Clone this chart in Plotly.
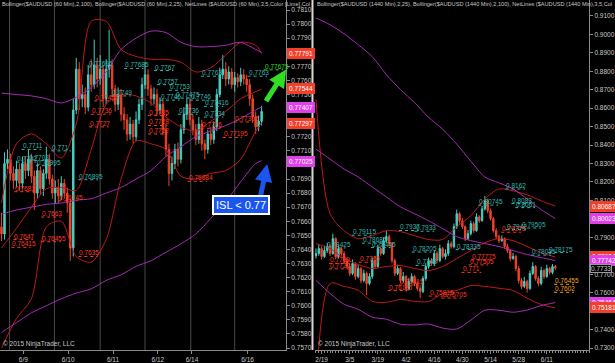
import plotly.graph_objects as go

# ---------------- LEFT PANEL: AUDUSD 60 min ----------------
L_open = [0.7656,0.7651,0.7701,0.7704,0.7694,0.7689,0.7697,0.7687,0.7701,0.7696,
          0.7704,0.7692,0.7680,0.7696,0.7683,0.7694,0.7704,0.7690,0.7680,0.7684,
          0.7678,0.7687,0.7680,0.7673,0.7641,0.7739,0.7768,0.7747,0.7750,0.7741,
          0.7764,0.7757,0.7771,0.7761,0.7768,0.7747,0.7768,0.7771,0.7754,0.7743,
          0.7750,0.7736,0.7732,0.7722,0.7729,0.7720,0.7732,0.7743,0.7757,0.7764,
          0.7754,0.7747,0.7750,0.7739,0.7743,0.7725,0.7711,0.7694,0.7701,0.7711,
          0.7704,0.7725,0.7736,0.7743,0.7732,0.7725,0.7718,0.7729,0.7715,0.7711,
          0.7722,0.7718,0.7727,0.7750,0.7764,0.7768,0.7761,0.7766,0.7757,0.7762,
          0.7759,0.7764,0.7761,0.7757,0.7747,0.7734,0.7727,0.7731]
L_high = [0.7666,0.7709,0.7711,0.7708,0.7699,0.7703,0.7701,0.7706,0.7706,0.7711,
          0.7708,0.7696,0.7701,0.7699,0.7697,0.7713,0.7708,0.7693,0.7689,0.7690,
          0.7692,0.7690,0.7684,0.7676,0.7747,0.7776,0.7773,0.7757,0.7755,0.7771,
          0.7775,0.7789,0.7776,0.7778,0.7771,0.7775,0.7796,0.7775,0.7757,0.7755,
          0.7754,0.7741,0.7736,0.7734,0.7732,0.7738,0.7747,0.7762,0.7773,0.7768,
          0.7757,0.7755,0.7754,0.7748,0.7747,0.7729,0.7715,0.7706,0.7715,0.7716,
          0.7729,0.7741,0.7748,0.7747,0.7736,0.7729,0.7734,0.7732,0.7718,0.7725,
          0.7727,0.7731,0.7754,0.7769,0.7778,0.7773,0.7770,0.7769,0.7766,0.7765,
          0.7769,0.7768,0.7764,0.7761,0.7750,0.7738,0.7735,0.7742]
L_low = [0.7646,0.7647,0.7697,0.7689,0.7683,0.7684,0.7682,0.7683,0.7690,0.7692,
         0.7687,0.7668,0.7676,0.7679,0.7678,0.7690,0.7686,0.7676,0.7673,0.7673,
         0.7675,0.7676,0.7666,0.7632,0.7635,0.7736,0.7739,0.7741,0.7736,0.7738,
         0.7752,0.7754,0.7755,0.7757,0.7741,0.7743,0.7762,0.7748,0.7738,0.7739,
         0.7731,0.7725,0.7717,0.7718,0.7715,0.7717,0.7729,0.7739,0.7754,0.7749,
         0.7742,0.7743,0.7735,0.7736,0.7721,0.7706,0.7685,0.7689,0.7697,0.7699,
         0.7701,0.7722,0.7732,0.7728,0.7721,0.7714,0.7715,0.7710,0.7704,0.7708,
         0.7714,0.7715,0.7724,0.7748,0.7761,0.7756,0.7757,0.7754,0.7752,0.7755,
         0.7756,0.7757,0.7752,0.7742,0.7730,0.7722,0.7724,0.7728]
L_close = [0.7651,0.7701,0.7704,0.7694,0.7689,0.7697,0.7687,0.7701,0.7696,0.7704,
           0.7692,0.7680,0.7696,0.7683,0.7694,0.7704,0.7690,0.7680,0.7684,0.7678,
           0.7687,0.7680,0.7673,0.7641,0.7739,0.7768,0.7747,0.7750,0.7741,0.7764,
           0.7757,0.7771,0.7761,0.7768,0.7747,0.7768,0.7771,0.7754,0.7743,0.7750,
           0.7736,0.7732,0.7722,0.7729,0.7720,0.7732,0.7743,0.7757,0.7764,0.7754,
           0.7747,0.7750,0.7739,0.7743,0.7725,0.7711,0.7694,0.7701,0.7711,0.7704,
           0.7725,0.7736,0.7743,0.7732,0.7725,0.7718,0.7729,0.7715,0.7711,0.7722,
           0.7718,0.7727,0.7750,0.7764,0.7768,0.7761,0.7766,0.7757,0.7762,0.7759,
           0.7764,0.7761,0.7757,0.7747,0.7734,0.7727,0.7731,0.7738]

L_band_x = [0,5,10,15,20,25,30,35,40,45,50,55,60,65,70,75,80,85,87]
L_red_up = [0.7673,0.7715,0.7722,0.7715,0.7705,0.7729,0.7802,0.7802,0.7782,0.7777,
            0.7775,0.7775,0.7773,0.7766,0.7769,0.7778,0.7787,0.7785,0.7779]
L_red_mid = [0.7641,0.7655,0.7670,0.7683,0.7684,0.7682,0.7711,0.7743,0.7750,0.7749,
             0.7744,0.7734,0.7727,0.7724,0.7731,0.7738,0.7747,0.7752,0.7754]
L_red_lo = [0.7570,0.7591,0.7605,0.7656,0.7660,0.7635,0.7631,0.7647,0.7690,0.7717,
            0.7715,0.7711,0.7692,0.7690,0.7694,0.7696,0.7704,0.7724,0.7730]
L_mag_up = [0.7751,0.7750,0.7749,0.7747,0.7744,0.7748,0.7755,0.7766,0.7782,0.7790,
            0.7795,0.7794,0.7787,0.7784,0.7784,0.7785,0.7787,0.7782,0.7780]
L_mag_mid = [0.7665,0.7668,0.7670,0.7672,0.7673,0.7675,0.7676,0.7680,0.7684,0.7690,
             0.7696,0.7706,0.7713,0.7720,0.7724,0.7728,0.7733,0.7739,0.7741]
L_mag_lo = [0.7581,0.7588,0.7595,0.7600,0.7605,0.7609,0.7612,0.7618,0.7622,0.7628,
            0.7632,0.7638,0.7644,0.7651,0.7662,0.7674,0.7688,0.7701,0.7703]

L_sessions = [2.7, 17.7, 33.0, 48.0, 63.3, 78.0]
L_xtick_pos = [7.3, 22.3, 37.3, 52.3, 63.7, 82.3]
L_xtick_txt = ["6/9", "6/10", "6/11", "6/12", "6/14", "6/16"]
L_yticks = [0.7570,0.7580,0.7590,0.7600,0.7610,0.7620,0.7630,0.7640,0.7650,0.7660,
            0.7670,0.7680,0.7690,0.7700,0.7710,0.7720,0.7730,0.7740,0.7750,0.7760,
            0.7770,0.7780,0.7790,0.7800,0.7810]
L_ytick_txt = ["0.7570","0.7580","0.7590","0.7600","0.7610","0.7620","0.7630","0.7640",
               "0.7650","0.7660","0.7670","0.7680","0.7690","","0.7710","0.7720","",
               "","0.7750","0.7760","0.7770","","0.7790","0.7800","0.7810"]

L_lbl_x = [6.7,16.7,9,11.5,5.0,25.7,4.3,13.3,4,3.3,13.3,25.7,19,29,41,51,52,56,58,53,
           59,63,31,30,29.3,36.7,49,49,49,62.3,66.7,67.7,67.7,82.3,77.7,66.7,74,87.7]
L_lbl_txt = ["0.7711","0.771","0.7703","0.76995","0.7702","0.76895","0.7681","0.7663",
             "0.7647","0.76415","0.76455","0.7635","0.76745","0.77696","0.77685","0.7767",
             "0.7757","0.7753","0.77475","0.7746","0.7736","0.7746","0.77455","0.7736",
             "0.7727","0.7749","0.7735","0.7728","0.7722","0.76884","0.7763","0.77416",
             "0.7734","0.7763","0.77305","0.7726","0.77195","0.77675"]
L_lbl_kind = ["t","t","t","t","t","t","r","r","r","r","r","r","r","t","t","t","t","t","t","t",
              "t","t","r","r","r","t","r","r","r","r","t","t","t","t","r","r","r","g"]

L_tag_val = [0.77791, 0.77544, 0.77407, 0.77297, 0.77025]
L_tag_kind = ["r", "r", "m", "r", "m"]

# ---------------- RIGHT PANEL: AUDUSD daily ----------------
R_open = [0.7800,0.7812,0.7839,0.7796,0.7828,0.7850,0.7812,0.7893,0.7796,0.7839,
          0.7812,0.7774,0.7742,0.7704,0.7758,0.7688,0.7731,0.7666,0.7704,0.7650,
          0.7688,0.7774,0.7742,0.7839,0.7812,0.7882,0.7904,0.7866,0.7774,0.7704,
          0.7731,0.7666,0.7688,0.7623,0.7661,0.7688,0.7650,0.7623,0.7607,0.7677,
          0.7742,0.7774,0.7758,0.7812,0.7774,0.7839,0.7796,0.7812,0.7866,0.7850,
          0.7958,0.8028,0.7990,0.7958,0.7893,0.7920,0.7974,0.7936,0.8011,0.7990,
          0.8054,0.8098,0.8044,0.8001,0.7936,0.7904,0.7882,0.7893,0.7850,0.7828,
          0.7785,0.7796,0.7731,0.7666,0.7634,0.7661,0.7623,0.7704,0.7742,0.7677,
          0.7650,0.7720,0.7688,0.7731,0.7710,0.7742]
R_high = [0.7840,0.7862,0.7850,0.7855,0.7870,0.7862,0.7920,0.7900,0.7858,0.7850,
          0.7825,0.7790,0.7760,0.7780,0.7765,0.7750,0.7740,0.7725,0.7715,0.7705,
          0.7790,0.7800,0.7860,0.7852,0.7900,0.7935,0.7915,0.7875,0.7785,0.7752,
          0.7740,0.7712,0.7695,0.7680,0.7705,0.7696,0.7665,0.7640,0.7690,0.7760,
          0.7790,0.7788,0.7830,0.7825,0.7860,0.7848,0.7835,0.7885,0.7880,0.7975,
          0.8050,0.8038,0.8005,0.7965,0.7940,0.7990,0.7985,0.8030,0.8020,0.8070,
          0.8124,0.8110,0.8055,0.8010,0.7950,0.7915,0.7910,0.7900,0.7865,0.7835,
          0.7815,0.7805,0.7745,0.7680,0.7685,0.7670,0.7720,0.7765,0.7750,0.7690,
          0.7740,0.7730,0.7752,0.7740,0.7755,0.7750]
R_low = [0.7785,0.7800,0.7780,0.7788,0.7815,0.7798,0.7805,0.7780,0.7785,0.7800,
         0.7760,0.7730,0.7690,0.7695,0.7670,0.7678,0.7650,0.7655,0.7586,0.7640,
         0.7675,0.7730,0.7735,0.7800,0.7805,0.7870,0.7850,0.7760,0.7690,0.7695,
         0.7650,0.7655,0.7605,0.7612,0.7650,0.7635,0.7610,0.7570,0.7598,0.7665,
         0.7730,0.7745,0.7748,0.7760,0.7765,0.7785,0.7780,0.7800,0.7838,0.7840,
         0.7945,0.7975,0.7945,0.7880,0.7885,0.7910,0.7925,0.7930,0.7978,0.7985,
         0.8045,0.8030,0.7990,0.7925,0.7890,0.7870,0.7875,0.7838,0.7815,0.7770,
         0.7778,0.7718,0.7650,0.7620,0.7625,0.7600,0.7615,0.7695,0.7665,0.7635,
         0.7640,0.7675,0.7680,0.7698,0.7700,0.7722]
R_close = [0.7812,0.7839,0.7796,0.7828,0.7850,0.7812,0.7893,0.7796,0.7839,0.7812,
           0.7774,0.7742,0.7704,0.7758,0.7688,0.7731,0.7666,0.7704,0.7650,0.7688,
           0.7774,0.7742,0.7839,0.7812,0.7882,0.7904,0.7866,0.7774,0.7704,0.7731,
           0.7666,0.7688,0.7623,0.7661,0.7688,0.7650,0.7623,0.7607,0.7677,0.7742,
           0.7774,0.7758,0.7812,0.7774,0.7839,0.7796,0.7812,0.7866,0.7850,0.7958,
           0.8028,0.7990,0.7958,0.7893,0.7920,0.7974,0.7936,0.8011,0.7990,0.8054,
           0.8098,0.8044,0.8001,0.7936,0.7904,0.7882,0.7893,0.7850,0.7828,0.7785,
           0.7796,0.7731,0.7666,0.7634,0.7661,0.7623,0.7704,0.7742,0.7677,0.7650,
           0.7720,0.7688,0.7731,0.7710,0.7742,0.7733]

R_band_x = [0,5,10,15,20,25,30,35,40,45,50,55,60,65,70,75,80,85]
R_mag_up = [0.9089,0.9052,0.9003,0.8944,0.8879,0.8782,0.8701,0.8631,0.8550,0.8486,
            0.8405,0.8313,0.8227,0.8195,0.8162,0.8108,0.8050,0.8002]
R_mag_mid = [0.8378,0.8324,0.8270,0.8227,0.8173,0.8119,0.8065,0.8028,0.7990,0.7947,
             0.7904,0.7882,0.7866,0.7850,0.7828,0.7807,0.7790,0.7774]
R_mag_lo = [0.7667,0.7596,0.7537,0.7510,0.7467,0.7456,0.7429,0.7425,0.7430,0.7408,
            0.7403,0.7451,0.7505,0.7505,0.7494,0.7506,0.7530,0.7546]
R_red_up = [0.8648,0.8028,0.7936,0.7893,0.7909,0.7936,0.7931,0.7909,0.7888,0.7888,
            0.7958,0.8017,0.8108,0.8162,0.8152,0.8130,0.8098,0.8069]
R_red_mid = [0.7866,0.7839,0.7785,0.7753,0.7731,0.7742,0.7747,0.7731,0.7720,0.7742,
             0.7785,0.7828,0.7871,0.7893,0.7882,0.7850,0.7817,0.7793]
R_red_lo = [0.7084,0.7650,0.7634,0.7613,0.7553,0.7548,0.7563,0.7553,0.7552,0.7596,
            0.7612,0.7639,0.7634,0.7624,0.7612,0.7570,0.7536,0.7517]

R_xtick_pos = [2, 12, 22, 32, 42, 52, 62, 72, 82]
R_xtick_txt = ["2/19", "3/5", "3/19", "4/2", "4/16", "4/30", "5/14", "5/28", "6/11"]
R_yticks = [0.7300,0.7400,0.7500,0.7600,0.7700,0.7800,0.7900,0.8000,0.8100,0.8200,
            0.8300,0.8400,0.8500,0.8600,0.8700,0.8800,0.8900,0.9000,0.9100]
R_ytick_txt = ["0.7300","0.7400","","0.7600","0.7700","","0.7900","","0.8100","0.8200",
               "0.8300","0.8400","0.8500","0.8600","0.8700","0.8800","0.8900","0.9000","0.9100"]

R_lbl_x = [67.3,57.7,69.4,70.8,72.9,67.5,29.5,35,12.7,3.5,16.3,19.5,34,49.6,82.5,76.5,35.4,
           15.2,4.6,4.6,55.2,54.2,51.7,29.4,44.6,40,65.8,25.5,84.6,84.6]
R_lbl_txt = ["0.8162","0.80745","0.8083","0.8061","0.79505","0.7942","0.7937","0.7933",
             "0.79115","0.78425","0.78685","0.78445","0.78205","0.78335","0.78175","0.78035",
             "0.7748","0.7765","0.7759","0.7729","0.77775","0.77505","0.771","0.76415",
             "0.75705","0.75815","0.79275","0.76115","0.76455","0.7602"]
R_lbl_kind = ["t"]*17 + ["r"]*11 + ["o", "o"]

R_tag_val = [0.80687, 0.80023, 0.77934, 0.77742, 0.7733, 0.75464, 0.75181]
R_tag_kind = ["r", "m", "r", "m", "k", "m", "r"]

# ---------------- styling ----------------
W, H = 615, 363
PB = 11
PH = H - PB
FONT = "Arial, Liberation Sans, sans-serif"
UP = "#48cfc0"
DN = "#f0442a"
RED_BAND = "#c0181c"
MAG = "#a82ab8"
TXT = "#c8c8c8"
AX = "#8a8a8a"
KIND_COL = {"t": "#35b5ad", "r": "#ff3a22", "g": "#33dd22", "o": "#f0a020"}
TAG_COL = {"r": "#f0402a", "m": "#e040e8"}

fig = go.Figure()


def add_panel(xa, ya, o, h, l, c, bx, bands, lbl_x, lbl_txt, lbl_kind, ulen):
    idx = list(range(len(c)))
    fig.add_trace(go.Candlestick(
        x=idx, open=o, high=h, low=l, close=c, xaxis=xa, yaxis=ya,
        increasing=dict(line=dict(color=UP, width=1), fillcolor=UP),
        decreasing=dict(line=dict(color=DN, width=1), fillcolor=DN),
        whiskerwidth=0, showlegend=False, hoverinfo="skip"))
    for vals, col in bands:
        fig.add_trace(go.Scatter(x=bx, y=vals, mode="lines", xaxis=xa, yaxis=ya,
                                 line=dict(color=col, width=1, shape="spline", smoothing=0.8),
                                 showlegend=False, hoverinfo="skip"))
    for kind in sorted(set(lbl_kind)):
        xs, ys = [], []
        for x, t, k in zip(lbl_x, lbl_txt, lbl_kind):
            if k == kind:
                xs += [x, x + ulen, None]
                ys += [float(t), float(t), None]
        fig.add_trace(go.Scatter(x=xs, y=ys, mode="lines", xaxis=xa, yaxis=ya,
                                 line=dict(color=KIND_COL[kind], width=1, dash="dot"),
                                 showlegend=False, hoverinfo="skip"))
    for x, t, k in zip(lbl_x, lbl_txt, lbl_kind):
        fig.add_annotation(x=x, y=float(t), xref=xa, yref=ya, text=t, showarrow=False,
                           xanchor="left", yanchor="bottom", borderpad=0, yshift=-1,
                           font=dict(size=6.5, color=KIND_COL[k], family=FONT))


add_panel("x", "y", L_open, L_high, L_low, L_close, L_band_x,
          [(L_red_up, RED_BAND), (L_red_mid, RED_BAND), (L_red_lo, RED_BAND),
           (L_mag_up, MAG), (L_mag_mid, MAG), (L_mag_lo, MAG)],
          L_lbl_x, L_lbl_txt, L_lbl_kind, 6.5)
add_panel("x2", "y2", R_open, R_high, R_low, R_close, R_band_x,
          [(R_red_up, RED_BAND), (R_red_mid, RED_BAND), (R_red_lo, RED_BAND),
           (R_mag_up, MAG), (R_mag_mid, MAG), (R_mag_lo, MAG)],
          R_lbl_x, R_lbl_txt, R_lbl_kind, 7)

shapes = []
for s in L_sessions:
    shapes.append(dict(type="line", xref="x", yref="paper", x0=s, x1=s, y0=0, y1=1,
                       line=dict(color="#4a4a4a", width=1), layer="below"))
shapes.append(dict(type="line", xref="paper", yref="paper", x0=313.5 / W, x1=313.5 / W,
                   y0=0, y1=1, line=dict(color="#d8d8d8", width=2)))
fig.update_layout(shapes=shapes)

# price tags on right axes
for v, k in zip(L_tag_val, L_tag_kind):
    fig.add_annotation(x=288 / W, xref="paper", y=v, yref="y", text=f"{v:.5f}",
                       showarrow=False, xanchor="left", yanchor="middle",
                       bgcolor=TAG_COL[k], bordercolor=TAG_COL[k], borderpad=1,
                       font=dict(size=6.5, color="white", family=FONT))
for v, k in zip(R_tag_val, R_tag_kind):
    if k == "k":
        fig.add_annotation(x=592 / W, xref="paper", y=v, yref="y2", text=f"{v:.4f}",
                           showarrow=False, xanchor="left", yanchor="middle",
                           bgcolor="black", bordercolor="#9a9a9a", borderwidth=1, borderpad=0,
                           font=dict(size=6.5, color=TXT, family=FONT))
    else:
        fig.add_annotation(x=592 / W, xref="paper", y=v, yref="y2", text=f"{v:.5f}",
                           showarrow=False, xanchor="left", yanchor="middle",
                           bgcolor=TAG_COL[k], bordercolor=TAG_COL[k], borderpad=1,
                           font=dict(size=6.5, color="white", family=FONT))

# headers
fig.add_annotation(x=0, y=1, xref="paper", yref="paper", xanchor="left", yanchor="top",
                   showarrow=False, yshift=1,
                   text="Bollinger($AUDUSD (60 Min),2,100), Bollinger($AUDUSD (60 Min),2,25), NetLines ($AUDUSD (60 Min),3,5,Color [Lime],Col",
                   font=dict(size=5.6, color=TXT, family=FONT))
fig.add_annotation(x=316 / W, y=1, xref="paper", yref="paper", xanchor="left", yanchor="top",
                   showarrow=False, yshift=1,
                   text="Bollinger($AUDUSD (1440 Min),2,25), Bollinger($AUDUSD (1440 Min),2,100), NetLines ($AUDUSD (1440 Min),3,5,Col",
                   font=dict(size=5.6, color=TXT, family=FONT))
for xp in [1 / W, 317 / W]:
    fig.add_annotation(x=xp, y=0, xref="paper", yref="paper", xanchor="left", yanchor="bottom",
                       showarrow=False, text="© 2015 NinjaTrader, LLC",
                       font=dict(size=6.5, color=TXT, family=FONT))

# hand-drawn callouts
fig.add_annotation(x=287 / W, y=(PH - 70) / PH, xref="paper", yref="paper", text="",
                   showarrow=True, ax=-21, ay=33, arrowcolor="#30e020", arrowwidth=5,
                   arrowhead=2, arrowsize=0.7)
fig.add_annotation(x=268 / W, y=(PH - 165) / PH, xref="paper", yref="paper", text="",
                   showarrow=True, ax=-7, ay=34, arrowcolor="#1a55f0", arrowwidth=5,
                   arrowhead=2, arrowsize=0.7)
fig.add_annotation(x=242 / W, y=(PH - 206) / PH, xref="paper", yref="paper",
                   text="ISL < 0.77", showarrow=False, bgcolor="#1a55f0",
                   bordercolor="white", borderwidth=2, borderpad=2,
                   font=dict(size=11, color="white", family=FONT))

axis_common = dict(showgrid=False, zeroline=False, showline=True, linecolor=AX, linewidth=1,
                   ticks="outside", ticklen=3, tickcolor=AX,
                   tickfont=dict(size=6.5, color=TXT, family=FONT))

fig.update_layout(
    width=W, height=H,
    margin=dict(l=0, r=0, t=0, b=PB),
    paper_bgcolor="black", plot_bgcolor="black",
    showlegend=False,
    xaxis=dict(domain=[0, 287 / W], range=[-0.5, 95.17], anchor="y",
               tickvals=L_xtick_pos, ticktext=L_xtick_txt,
               rangeslider=dict(visible=False), **axis_common),
    yaxis=dict(domain=[0, 1], range=[0.75686, 0.78171], anchor="x", side="right",
               tickvals=L_yticks, ticktext=L_ytick_txt, **axis_common),
    xaxis2=dict(domain=[316 / W, 591 / W], range=[-0.35, 97.0], anchor="y2",
                tickvals=R_xtick_pos, ticktext=R_xtick_txt,
                minor=dict(dtick=1, tick0=0, ticks="outside", ticklen=2, tickcolor=AX),
                rangeslider=dict(visible=False), **axis_common),
    yaxis2=dict(domain=[0, 1], range=[0.72893, 0.91862], anchor="x2", side="right",
                tickvals=R_yticks, ticktext=R_ytick_txt, **axis_common),
)

fig.write_html("out.html")
